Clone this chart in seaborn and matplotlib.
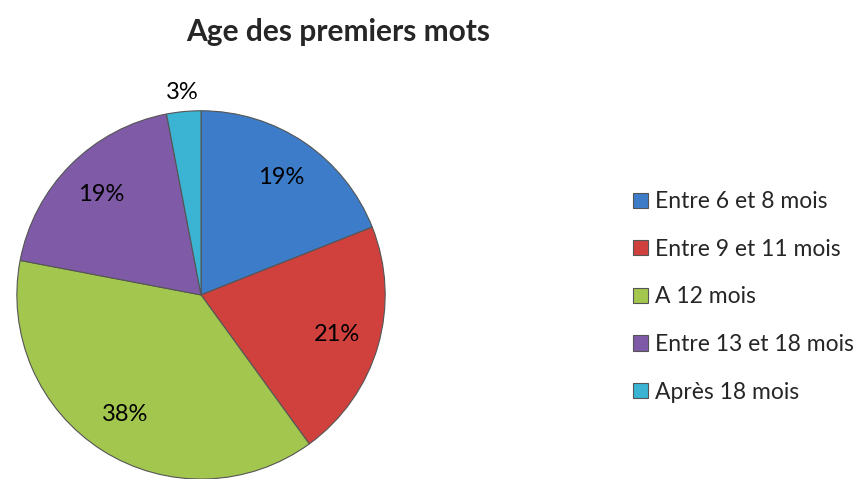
import matplotlib
matplotlib.use("Agg")
import matplotlib.pyplot as plt
import seaborn as sns

categories = ["Entre 6 et 8 mois", "Entre 9 et 11 mois", "A 12 mois",
              "Entre 13 et 18 mois", "Après 18 mois"]
values = [19, 21, 38, 19, 3]
colors = ["#3d7cc9", "#d0413e", "#a3c64e", "#7f5aa6", "#3bb4d4"]

sns.set_style("white")
plt.rcParams["font.family"] = ["Lato", "DejaVu Sans"]

fig = plt.figure(figsize=(8.68, 4.79), dpi=100)
ax = fig.add_axes([0.0173, -0.004, 0.4286, 0.7766])

palette = sns.color_palette(colors)
wedges, texts, autotexts = ax.pie(
    values, colors=palette, startangle=90, counterclock=False,
    autopct="%d%%", pctdistance=0.77, radius=1.0,
    wedgeprops=dict(edgecolor="#555555", linewidth=0.8),
    textprops=dict(fontsize=17, color="black"))
# small slice label sits outside the pie
autotexts[-1].set_position((-0.1, 1.1))
ax.set_xlim(-1.01, 1.01)
ax.set_ylim(-1.01, 1.01)
ax.set_aspect("equal")
ax.axis("off")

fig.text(0.39, 0.933, "Age des premiers mots", ha="center", va="center",
         fontsize=21.5, fontweight="bold")

fig.legend(wedges, categories, loc="center left", bbox_to_anchor=(0.706, 0.38),
           frameon=False, fontsize=16.5, handlelength=0.65, handleheight=0.65,
           handletextpad=0.3, labelspacing=1.16)

fig.savefig("out.png", dpi=100)
